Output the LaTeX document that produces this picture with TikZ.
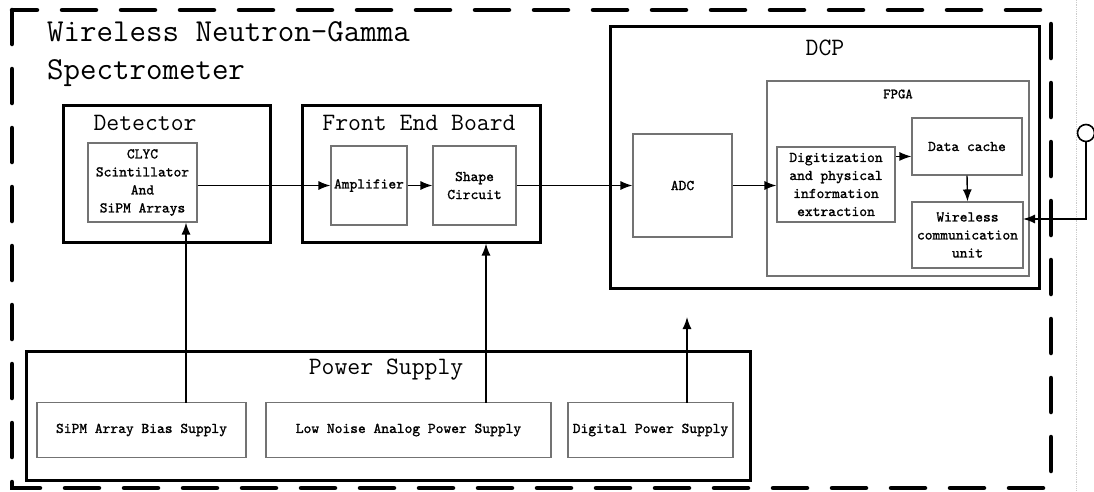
\documentclass[tikz,border=0pt]{standalone}
\usepackage{fontspec}
\newfontfamily\boxfont{lmmono10-regular.otf}[FakeBold=1.3]
\usetikzlibrary{arrows.meta}
\begin{document}
\begin{tikzpicture}[x=1pt,y=-1pt,
  outer/.style={draw,line width=3pt,inner sep=0pt},
  inner/.style={draw=black!55,line width=1.1pt,inner sep=0pt,align=center,font=\fontsize{14.8}{18}\selectfont\boxfont},
  biglabel/.style={inner sep=0pt,font=\fontsize{25}{30}\selectfont\ttfamily},
  arr/.style={line width=1.4pt,-{Latex[length=12pt,width=9pt]}},
  wire/.style={line width=1.4pt}]
\useasboundingbox (0,0) rectangle (1094,491);
\fill[white] (0,0) rectangle (1094,491);
% faint page edge
\draw[black!20,line width=0.8pt,densely dotted] (1076,0) -- (1076,491);
% outer dashed frame
\draw[line width=4.5pt,dash pattern=on 34pt off 25pt,line cap=round] (12,10) rectangle (1051,488);
% title
\node[anchor=west,inner sep=0pt,align=left,font=\fontsize{32}{38}\selectfont\ttfamily] (title) at (47,54) {Wireless Neutron-Gamma\\Spectrometer};
% Detector
\node[outer,minimum width=207pt,minimum height=137pt] (det) at (166.5,173.5) {};
\node[biglabel] (detl) at (145,123) {Detector};
\node[inner,minimum width=109pt,minimum height=79pt] (clyc) at (142.5,182.5) {CLYC\\Scintillator\\And\\SiPM Arrays};
% Front end board
\node[outer,minimum width=238pt,minimum height=137pt] (feb) at (421,173.5) {};
\node[biglabel] (febl) at (419,123) {Front End Board};
\node[inner,minimum width=76pt,minimum height=79pt] (amp) at (369,185.5) {Amplifier};
\node[inner,minimum width=83pt,minimum height=79pt] (shape) at (474.5,185.5) {Shape\\Circuit};
% DCP
\node[outer,minimum width=429pt,minimum height=262pt] (dcp) at (824.5,157) {};
\node[biglabel] (dcpl) at (825,48) {DCP};
\node[draw=black!55,line width=1.1pt,inner sep=0pt,minimum width=262pt,minimum height=195pt] (fpga) at (898,178.5) {};
\node[inner sep=0pt,font=\fontsize{14}{16}\selectfont\boxfont] (fpgal) at (898,94) {FPGA};
\node[inner,minimum width=99pt,minimum height=103pt] (adc) at (682.5,185.5) {ADC};
\node[inner,minimum width=118pt,minimum height=75pt] (dig) at (836,184.5) {Digitization\\and physical\\information\\extraction};
\node[inner,minimum width=110pt,minimum height=57pt] (cache) at (967,146.5) {Data cache};
\node[inner,minimum width=111pt,minimum height=66pt] (wl) at (967.5,235) {Wireless\\communication\\unit};
% Power supply
\node[outer,minimum width=724pt,minimum height=129pt] (pwr) at (388,416) {};
\node[biglabel] (pwrl) at (386,370) {Power Supply};
\node[inner,minimum width=209pt,minimum height=55pt] (sipm) at (141.5,430) {SiPM Array Bias Supply};
\node[inner,minimum width=285pt,minimum height=55pt] (lnp) at (408.5,430) {Low Noise Analog Power Supply};
\node[inner,minimum width=165pt,minimum height=55pt] (dps) at (650.5,430) {Digital Power Supply};
% antenna
\node[draw,circle,line width=1.6pt,minimum size=17pt,inner sep=0pt] (ant) at (1086,133) {};
% signal chain
\draw[arr] (clyc.east |- amp.west) -- (amp.west);
\draw[arr] (amp.east) -- (shape.west);
\draw[arr] (shape.east) -- (adc.west |- shape.east);
\draw[arr] (adc.east) -- (dig.west |- adc.east);
\coordinate (dc) at ([yshift=-10pt]dig.north east);
\draw[arr] (dc) -- (dc -| cache.west);
\draw[arr] (cache.south) -- (wl.north);
\coordinate (wlin) at (1023,219);
\draw[arr] (ant.south) |- (wlin);
% power lines
\coordinate (p1) at (186,402.5);
\coordinate (p2) at (486,402.5);
\coordinate (p3) at (687,402.5);
\coordinate (p3e) at (687,317);
\draw[arr] (p1) -- (p1 |- clyc.south);
\draw[arr] (p2) -- (p2 |- feb.south);
\draw[arr] (p3) -- (p3e);
\end{tikzpicture}
\end{document}
